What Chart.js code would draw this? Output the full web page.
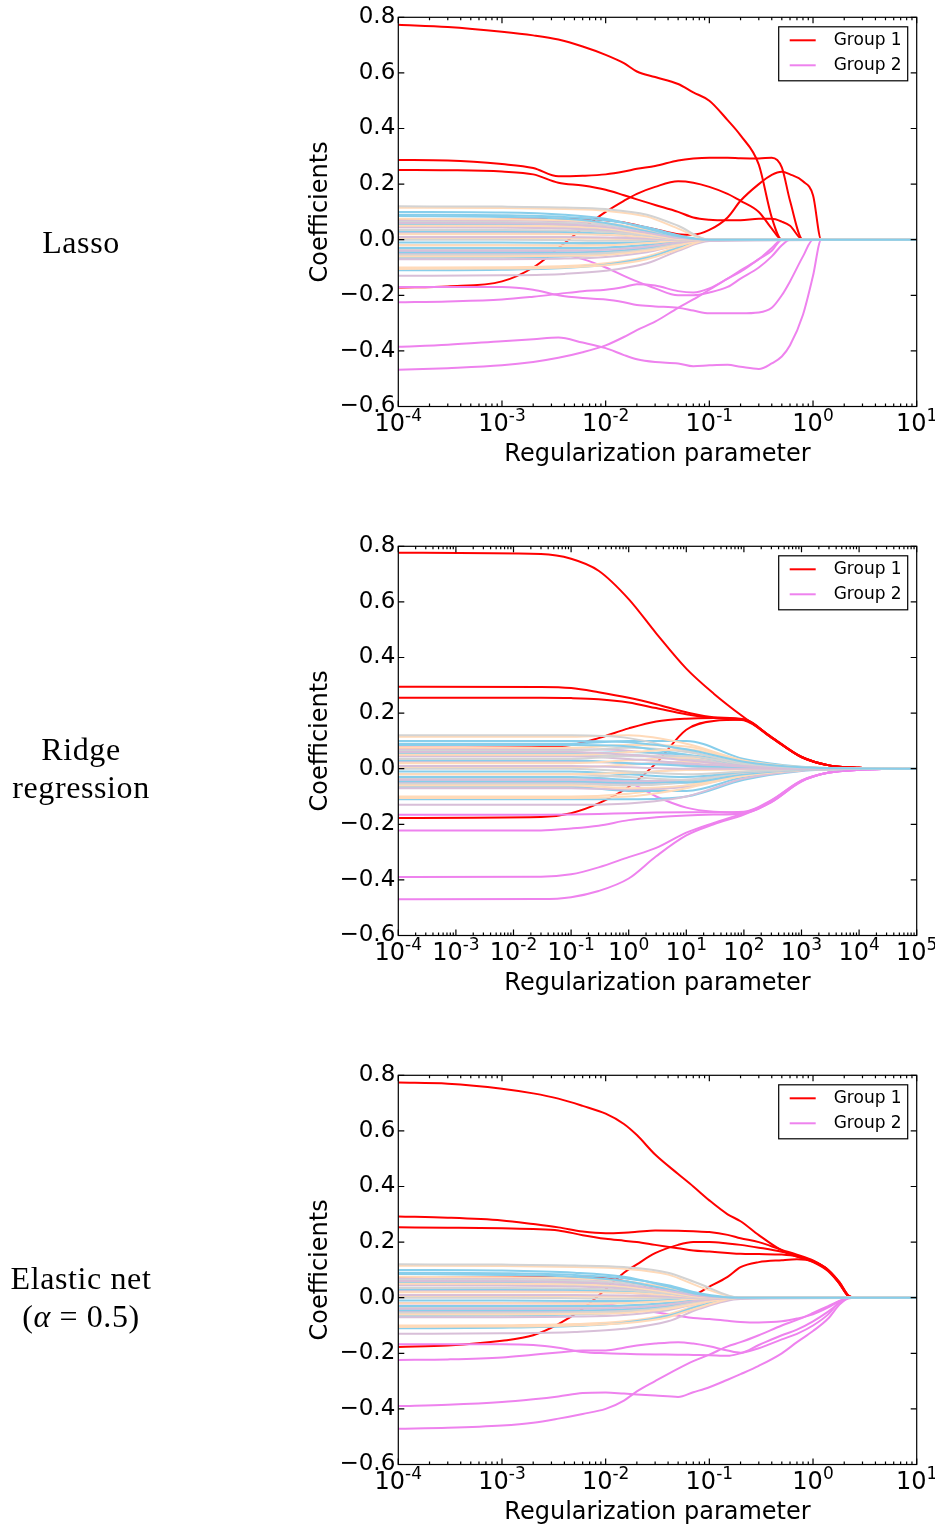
<!DOCTYPE html>
<html>
<head>
<meta charset="utf-8">
<script src="https://cdn.jsdelivr.net/npm/chart.js@4.4.1/dist/chart.umd.min.js"></script>
<style>
	html, body { margin: 0; padding: 0; background: #fff; }
	body { width: 935px; height: 1527px; position: relative; overflow: hidden; }
	.panel { position: absolute; left: 0; width: 935px; height: 469px; }
	.panel canvas { position: absolute; left: 0; top: 0; }
	.rowlabel { position: absolute; left: 0; width: 162px; text-align: center; color: #000;
		font-family: "Liberation Serif", "DejaVu Serif", serif; font-size: 32px; line-height: 38px;
		letter-spacing: 0.6px; }
</style>
</head>
<body>
<div class="panel" style="top:0px"><canvas id="lasso" width="935" height="469"></canvas></div>
<div class="panel" style="top:529px"><canvas id="ridge" width="935" height="469"></canvas></div>
<div class="panel" style="top:1058px"><canvas id="elastic" width="935" height="469"></canvas></div>
<div class="rowlabel" style="top:223px">Lasso</div>
<div class="rowlabel" style="top:730px">Ridge<br>regression</div>
<div class="rowlabel" style="top:1259px">Elastic net<br>(<i>α</i> = 0.5)</div>

<script>
// ---- shared labels / ticks ----
const groupLabels = ['Group 1', 'Group 2'];
const groupColors = ['red', 'violet'];
const yTickValues = [-0.6, -0.4, -0.2, 0, 0.2, 0.4, 0.6, 0.8];
const yTickLabels = ['\u22120.6', '\u22120.4', '\u22120.2', '0.0', '0.2', '0.4', '0.6', '0.8'];
// x tick labels are 10 with a raised exponent
const sparseTickValues = [1e-4, 1e-3, 1e-2, 1e-1, 1e0, 1e1];
const sparseTickExps = ['-4', '-3', '-2', '-1', '0', '1'];
const ridgeTickValues = [1e-4, 1e-3, 1e-2, 1e-1, 1e0, 1e1, 1e2, 1e3, 1e4, 1e5];
const ridgeTickExps = ['-4', '-3', '-2', '-1', '0', '1', '2', '3', '4', '5'];

// ---- noise features (faded lines), same order for every panel ----
const noiseColors = [
	'skyblue', 'lightgray', 'peachpuff', 'thistle', 'skyblue', 'peachpuff', 'lightgray',
	'skyblue', 'thistle', 'peachpuff', 'skyblue', 'lightgray', 'thistle', 'skyblue',
	'lightgray', 'peachpuff', 'thistle', 'skyblue', 'lightgray', 'thistle', 'skyblue',
	'peachpuff', 'lightgray', 'skyblue', 'thistle', 'peachpuff', 'thistle', 'skyblue',
	'peachpuff', 'thistle', 'lightgray', 'skyblue', 'peachpuff', 'lightgray', 'thistle', 'peachpuff'
];
// lasso / elastic net noise paths (sparse methods)
const lassoNoiseLambda = [1e-4, 1e-3, 4e-3, 1e-2, 2.5e-2, 5e-2, 0.1, 10];
const elasticNoiseLambda = [1e-4, 1e-3, 5e-3, 1.5e-2, 4e-2, 0.08, 0.2, 10];
const sparseNoise = [
	[0.10, 0.098, 0.09, 0.075, 0.04, 0.012, 0, 0],
	[0.12, 0.119, 0.116, 0.11, 0.09, 0.05, 0, 0],
	[0.115, 0.114, 0.11, 0.104, 0.083, 0.04, 0, 0],
	[0.06, 0.059, 0.055, 0.046, 0.025, 0.006, 0, 0],
	[0.09, 0.088, 0.082, 0.07, 0.045, 0.016, 0, 0],
	[0.05, 0.05, 0.048, 0.04, 0.02, 0.003, 0, 0],
	[0.035, 0.035, 0.033, 0.028, 0.015, 0.002, 0, 0],
	[0.085, 0.082, 0.075, 0.06, 0.03, 0.005, 0, 0],
	[0.045, 0.044, 0.04, 0.032, 0.015, 0.002, 0, 0],
	[0.02, 0.02, 0.02, 0.018, 0.01, 0.001, 0, 0],
	[0.055, 0.053, 0.05, 0.04, 0.02, 0.004, 0, 0],
	[0.065, 0.064, 0.06, 0.052, 0.03, 0.008, 0, 0],
	[0.01, 0.01, 0.01, 0.008, 0.004, 0, 0, 0],
	[0.03, 0.03, 0.028, 0.022, 0.01, 0.001, 0, 0],
	[0.0, 0.0, -0.002, -0.004, -0.002, 0, 0, 0],
	[-0.02, -0.02, -0.022, -0.02, -0.012, -0.003, 0, 0],
	[0.025, 0.025, 0.023, 0.018, 0.008, 0.001, 0, 0],
	[-0.01, -0.01, -0.012, -0.012, -0.008, -0.001, 0, 0],
	[-0.02, -0.02, -0.02, -0.017, -0.01, -0.002, 0, 0],
	[-0.04, -0.04, -0.04, -0.036, -0.025, -0.01, 0, 0],
	[-0.03, -0.03, -0.03, -0.028, -0.018, -0.005, 0, 0],
	[-0.06, -0.06, -0.058, -0.055, -0.04, -0.02, 0, 0],
	[-0.055, -0.055, -0.053, -0.048, -0.035, -0.015, 0, 0],
	[-0.045, -0.045, -0.045, -0.042, -0.03, -0.012, 0, 0],
	[-0.05, -0.05, -0.05, -0.046, -0.032, -0.013, 0, 0],
	[-0.105, -0.104, -0.1, -0.092, -0.07, -0.035, 0, 0],
	[-0.13, -0.128, -0.123, -0.112, -0.085, -0.04, -0.005, 0],
	[-0.11, -0.108, -0.102, -0.09, -0.065, -0.03, 0, 0],
	[0.075, 0.074, 0.07, 0.06, 0.035, 0.01, 0, 0],
	[-0.07, -0.07, -0.068, -0.062, -0.045, -0.02, 0, 0],
	[0.045, 0.045, 0.043, 0.036, 0.02, 0.004, 0, 0],
	[-0.065, -0.064, -0.06, -0.052, -0.035, -0.012, 0, 0],
	[0.005, 0.005, 0.004, 0.003, 0.001, 0, 0, 0],
	[-0.035, -0.035, -0.034, -0.03, -0.02, -0.006, 0, 0],
	[0.07, 0.069, 0.066, 0.058, 0.035, 0.01, 0, 0],
	[-0.1, -0.099, -0.095, -0.085, -0.06, -0.025, 0, 0]
];
// ridge noise paths
const ridgeNoiseLambda = [1e-4, 0.1, 1, 10, 100, 1e3, 1e4, 1e5];
const ridgeNoise = [
	[0.10, 0.1, 0.095, 0.07, 0.025, 0.005, 0.001, 0],
	[0.12, 0.12, 0.11, 0.065, 0.02, 0.004, 0.001, 0],
	[0.115, 0.115, 0.12, 0.09, 0.03, 0.006, 0.001, 0],
	[0.06, 0.06, 0.05, 0.03, 0.01, 0.002, 0, 0],
	[0.09, 0.09, 0.1, 0.1, 0.035, 0.007, 0.001, 0],
	[0.05, 0.05, 0.06, 0.07, 0.025, 0.005, 0.001, 0],
	[0.035, 0.035, 0.045, 0.045, 0.015, 0.003, 0, 0],
	[0.085, 0.085, 0.08, 0.05, 0.015, 0.003, 0, 0],
	[0.045, 0.045, 0.035, 0.02, 0.008, 0.002, 0, 0],
	[0.02, 0.02, 0.03, 0.04, 0.02, 0.004, 0.001, 0],
	[0.055, 0.055, 0.06, 0.05, 0.02, 0.004, 0.001, 0],
	[0.065, 0.065, 0.075, 0.06, 0.02, 0.004, 0.001, 0],
	[0.01, 0.01, 0.005, 0, 0, 0, 0, 0],
	[0.03, 0.03, 0.02, 0.01, 0.005, 0.001, 0, 0],
	[0, 0, -0.01, -0.02, -0.01, -0.002, 0, 0],
	[-0.02, -0.02, -0.015, -0.005, -0.003, -0.001, 0, 0],
	[0.025, 0.025, 0.02, 0.015, 0.006, 0.001, 0, 0],
	[-0.01, -0.01, -0.02, -0.03, -0.012, -0.002, 0, 0],
	[-0.02, -0.02, -0.03, -0.04, -0.015, -0.003, 0, 0],
	[-0.04, -0.04, -0.045, -0.04, -0.015, -0.003, 0, 0],
	[-0.03, -0.03, -0.04, -0.05, -0.02, -0.004, -0.001, 0],
	[-0.06, -0.06, -0.07, -0.06, -0.025, -0.005, -0.001, 0],
	[-0.055, -0.055, -0.06, -0.05, -0.02, -0.004, -0.001, 0],
	[-0.045, -0.045, -0.05, -0.045, -0.02, -0.004, -0.001, 0],
	[-0.05, -0.05, -0.055, -0.05, -0.02, -0.004, -0.001, 0],
	[-0.105, -0.105, -0.1, -0.07, -0.025, -0.005, -0.001, 0],
	[-0.13, -0.13, -0.125, -0.1, -0.035, -0.007, -0.001, 0],
	[-0.11, -0.11, -0.11, -0.1, -0.04, -0.008, -0.001, 0],
	[0.075, 0.075, 0.085, 0.08, 0.028, 0.005, 0.001, 0],
	[-0.07, -0.07, -0.075, -0.065, -0.025, -0.005, -0.001, 0],
	[0.045, 0.045, 0.05, 0.035, 0.012, 0.002, 0, 0],
	[-0.065, -0.065, -0.08, -0.08, -0.03, -0.006, -0.001, 0],
	[0.005, 0.005, 0.015, 0.025, 0.012, 0.002, 0, 0],
	[-0.035, -0.035, -0.02, 0, 0.005, 0.001, 0, 0],
	[0.07, 0.07, 0.065, 0.04, 0.012, 0.002, 0, 0],
	[-0.1, -0.1, -0.09, -0.06, -0.02, -0.004, -0.001, 0]
];

// ---- Lasso ----
const lassoLambda = [1e-4, 3e-4, 1e-3, 2e-3, 3.5e-3, 6e-3, 1e-2, 1.5e-2, 2e-2, 3e-2, 5e-2, 7e-2, 0.1, 0.15, 0.2, 0.3, 0.4, 0.5, 0.6, 0.8, 1.0, 1.2, 10];
const lassoGroup1 = [
	[0.773, 0.765, 0.748, 0.735, 0.72, 0.695, 0.665, 0.635, 0.605, 0.585, 0.56, 0.53, 0.5, 0.43, 0.375, 0.27, 0.08, 0, 0, 0, 0, 0, 0],
	[0.287, 0.285, 0.272, 0.258, 0.228, 0.23, 0.235, 0.245, 0.255, 0.265, 0.285, 0.292, 0.295, 0.295, 0.293, 0.292, 0.295, 0.26, 0.14, 0, 0, 0, 0],
	[0.251, 0.25, 0.245, 0.235, 0.205, 0.195, 0.18, 0.16, 0.145, 0.125, 0.1, 0.08, 0.072, 0.07, 0.07, 0.075, 0.075, 0.065, 0.05, 0, 0, 0, 0],
	[0.07, 0.07, 0.072, 0.073, 0.075, 0.075, 0.07, 0.062, 0.052, 0.038, 0.02, 0.018, 0.035, 0.08, 0.14, 0.2, 0.233, 0.244, 0.235, 0.21, 0.16, 0, 0],
	[-0.172, -0.168, -0.15, -0.1, -0.03, 0.04, 0.1, 0.14, 0.165, 0.19, 0.21, 0.205, 0.19, 0.165, 0.14, 0.1, 0.04, 0, 0, 0, 0, 0, 0]
];
const lassoGroup2 = [
	[-0.17, -0.17, -0.17, -0.18, -0.2, -0.21, -0.215, -0.225, -0.235, -0.24, -0.245, -0.255, -0.265, -0.265, -0.265, -0.262, -0.245, -0.2, -0.15, -0.06, 0, 0, 0],
	[-0.225, -0.222, -0.215, -0.205, -0.195, -0.185, -0.18, -0.17, -0.16, -0.165, -0.185, -0.19, -0.175, -0.14, -0.11, -0.07, -0.03, 0, 0, 0, 0, 0, 0],
	[-0.385, -0.378, -0.365, -0.358, -0.352, -0.37, -0.39, -0.415, -0.43, -0.44, -0.445, -0.455, -0.452, -0.45, -0.457, -0.465, -0.445, -0.42, -0.38, -0.27, -0.13, 0, 0],
	[-0.468, -0.462, -0.452, -0.44, -0.425, -0.405, -0.38, -0.35, -0.325, -0.295, -0.245, -0.215, -0.18, -0.14, -0.115, -0.07, -0.04, 0, 0, 0, 0, 0, 0],
	[-0.03, -0.03, -0.035, -0.04, -0.05, -0.07, -0.1, -0.13, -0.15, -0.175, -0.2, -0.2, -0.19, -0.17, -0.14, -0.1, -0.06, -0.02, 0, 0, 0, 0, 0]
];

// ---- Ridge ----
const ridgeLambda = [1e-4, 3e-2, 0.1, 0.3, 1, 3, 10, 30, 100, 300, 1e3, 3e3, 1e4, 3e4, 1e5];
const ridgeGroup1 = [
	[0.777, 0.772, 0.755, 0.712, 0.61, 0.487, 0.36, 0.27, 0.185, 0.115, 0.043, 0.012, 0.003, 0.001, 0],
	[0.295, 0.294, 0.29, 0.275, 0.255, 0.232, 0.203, 0.185, 0.178, 0.113, 0.042, 0.012, 0.003, 0.001, 0],
	[0.255, 0.255, 0.254, 0.25, 0.238, 0.218, 0.196, 0.182, 0.174, 0.112, 0.041, 0.012, 0.003, 0.001, 0],
	[0.075, 0.078, 0.085, 0.11, 0.145, 0.17, 0.18, 0.182, 0.176, 0.113, 0.042, 0.012, 0.003, 0.001, 0],
	[-0.177, -0.174, -0.16, -0.125, -0.065, 0.02, 0.14, 0.172, 0.176, 0.112, 0.042, 0.012, 0.003, 0.001, 0]
];
const ridgeGroup2 = [
	[-0.166, -0.166, -0.165, -0.163, -0.16, -0.158, -0.157, -0.157, -0.155, -0.113, -0.042, -0.014, -0.004, -0.001, 0],
	[-0.222, -0.222, -0.215, -0.205, -0.185, -0.175, -0.168, -0.165, -0.16, -0.115, -0.043, -0.014, -0.004, -0.001, 0],
	[-0.39, -0.389, -0.38, -0.355, -0.318, -0.285, -0.23, -0.195, -0.16, -0.118, -0.045, -0.014, -0.004, -0.001, 0],
	[-0.47, -0.469, -0.462, -0.44, -0.395, -0.315, -0.24, -0.2, -0.165, -0.12, -0.046, -0.014, -0.004, -0.001, 0],
	[-0.03, -0.03, -0.032, -0.04, -0.05, -0.1, -0.14, -0.155, -0.158, -0.12, -0.045, -0.014, -0.004, -0.001, 0]
];

// ---- Elastic net ----
const elasticLambda = [1e-4, 3e-4, 1e-3, 2e-3, 3.5e-3, 6e-3, 1e-2, 1.5e-2, 2e-2, 3e-2, 5e-2, 7e-2, 0.1, 0.15, 0.2, 0.3, 0.5, 0.7, 1.0, 1.4, 1.8, 2.2, 2.6, 10];
const elasticGroup1 = [
	[0.774, 0.77, 0.752, 0.735, 0.716, 0.69, 0.662, 0.625, 0.585, 0.515, 0.445, 0.4, 0.35, 0.3, 0.275, 0.225, 0.17, 0.148, 0.13, 0.1, 0.05, 0.005, 0, 0],
	[0.292, 0.288, 0.278, 0.265, 0.253, 0.238, 0.232, 0.234, 0.237, 0.242, 0.241, 0.239, 0.236, 0.226, 0.214, 0.2, 0.172, 0.155, 0.134, 0.1, 0.055, 0.008, 0, 0],
	[0.253, 0.252, 0.25, 0.247, 0.242, 0.225, 0.212, 0.205, 0.2, 0.19, 0.178, 0.17, 0.166, 0.161, 0.158, 0.157, 0.155, 0.148, 0.128, 0.095, 0.05, 0.006, 0, 0],
	[0.073, 0.073, 0.074, 0.075, 0.075, 0.073, 0.07, 0.06, 0.05, 0.035, 0.018, 0.012, 0.04, 0.075, 0.11, 0.128, 0.135, 0.138, 0.13, 0.098, 0.052, 0.006, 0, 0],
	[-0.177, -0.172, -0.155, -0.135, -0.095, -0.04, 0.03, 0.09, 0.12, 0.16, 0.19, 0.2, 0.2, 0.195, 0.19, 0.18, 0.165, 0.15, 0.132, 0.1, 0.056, 0.007, 0, 0]
];
const elasticGroup2 = [
	[-0.167, -0.167, -0.167, -0.17, -0.18, -0.195, -0.2, -0.202, -0.203, -0.204, -0.205, -0.206, -0.207, -0.209, -0.2, -0.182, -0.15, -0.13, -0.1, -0.06, -0.015, 0, 0, 0],
	[-0.224, -0.222, -0.215, -0.205, -0.197, -0.19, -0.19, -0.18, -0.172, -0.165, -0.16, -0.165, -0.175, -0.19, -0.198, -0.17, -0.135, -0.115, -0.085, -0.05, -0.02, -0.002, 0, 0],
	[-0.39, -0.385, -0.375, -0.365, -0.355, -0.343, -0.341, -0.345, -0.348, -0.352, -0.357, -0.34, -0.322, -0.295, -0.275, -0.245, -0.2, -0.16, -0.12, -0.075, -0.025, -0.002, 0, 0],
	[-0.471, -0.468, -0.46, -0.45, -0.435, -0.418, -0.4, -0.37, -0.337, -0.3, -0.255, -0.228, -0.205, -0.175, -0.16, -0.135, -0.1, -0.08, -0.055, -0.03, -0.012, -0.001, 0, 0],
	[-0.02, -0.02, -0.02, -0.02, -0.02, -0.021, -0.023, -0.035, -0.042, -0.052, -0.065, -0.073, -0.077, -0.083, -0.087, -0.089, -0.085, -0.075, -0.06, -0.035, -0.012, -0.001, 0, 0]
];

const sansFont = '"DejaVu Sans", sans-serif';

function series(xs, ys) {
	return xs.map((x, i) => ({ x: x, y: ys[i] }));
}

function buildDatasets(groupX, group1, group2, noiseX, noise) {
	const ds = [];
	// first dataset is painted last, so noise goes first (drawn over the groups)
	noise.forEach((row, i) => ds.push({ data: series(noiseX, row), borderColor: noiseColors[i] }));
	group2.forEach(row => ds.push({ data: series(groupX, row), borderColor: groupColors[1] }));
	group1.forEach(row => ds.push({ data: series(groupX, row), borderColor: groupColors[0] }));
	return ds;
}

// box, inside ticks (major + log minor) on all four sides, and 10^n tick labels
const framePlugin = {
	id: 'frame',
	afterDraw(chart, args, opts) {
		const { ctx, chartArea: a } = chart;
		const x = chart.scales.x, y = chart.scales.y;
		ctx.save();
		ctx.strokeStyle = '#000';
		ctx.lineWidth = 1.2;
		ctx.strokeRect(a.left, a.top, a.right - a.left, a.bottom - a.top);
		ctx.beginPath();
		const e0 = Math.round(Math.log10(x.min)), e1 = Math.round(Math.log10(x.max));
		for (let e = e0; e <= e1; e++) {
			for (let k = 1; k <= 9; k++) {
				const v = k * Math.pow(10, e);
				if (v > x.max * 1.0001) continue;
				const px = x.getPixelForValue(v);
				const len = k === 1 ? 6 : 3;
				ctx.moveTo(px, a.bottom); ctx.lineTo(px, a.bottom - len);
				ctx.moveTo(px, a.top); ctx.lineTo(px, a.top + len);
			}
		}
		y.ticks.forEach(t => {
			const py = y.getPixelForValue(t.value);
			ctx.moveTo(a.left, py); ctx.lineTo(a.left + 6, py);
			ctx.moveTo(a.right, py); ctx.lineTo(a.right - 6, py);
		});
		ctx.stroke();

		// x tick labels: "10" plus a smaller raised exponent, centred on the tick
		ctx.fillStyle = '#000';
		ctx.textBaseline = 'alphabetic';
		ctx.textAlign = 'left';
		const base = a.bottom + 24.5;
		x.ticks.forEach((t, i) => {
			const px = x.getPixelForValue(t.value);
			ctx.font = '24px ' + sansFont;
			const w1 = ctx.measureText('10').width;
			ctx.font = '17px ' + sansFont;
			const w2 = ctx.measureText(opts.exps[i]).width;
			const start = px - (w1 + w2) / 2;
			ctx.font = '24px ' + sansFont;
			ctx.fillText('10', start, base);
			ctx.font = '17px ' + sansFont;
			ctx.fillText(opts.exps[i], start + w1, base - 10);
		});
		ctx.restore();
	}
};

// boxed legend in the upper right corner of the axes
const legendPlugin = {
	id: 'groupLegend',
	afterDraw(chart) {
		const { ctx, chartArea: a } = chart;
		const w = 129, h = 54;
		const left = a.right - 9 - w, top = a.top + 9.5;
		ctx.save();
		ctx.fillStyle = '#fff';
		ctx.fillRect(left, top, w, h);
		ctx.strokeStyle = '#000';
		ctx.lineWidth = 1.2;
		ctx.strokeRect(left, top, w, h);
		ctx.font = '17px ' + sansFont;
		ctx.textBaseline = 'middle';
		groupLabels.forEach((label, i) => {
			const yy = top + 13.5 + i * 25;
			ctx.strokeStyle = groupColors[i];
			ctx.lineWidth = 2;
			ctx.beginPath();
			ctx.moveTo(left + 11, yy);
			ctx.lineTo(left + 37, yy);
			ctx.stroke();
			ctx.fillStyle = '#000';
			ctx.fillText(label, left + 55, yy);
		});
		ctx.restore();
	}
};

function makeChart(id, datasets, xMax, tickValues, tickExps) {
	return new Chart(document.getElementById(id), {
		type: 'line',
		data: { datasets: datasets },
		options: {
			responsive: false,
			animation: false,
			devicePixelRatio: 1,
			layout: { padding: { left: 303, top: 17.3, right: 18.3, bottom: 0 } },
			elements: {
				point: { radius: 0 },
				line: { borderWidth: 2, cubicInterpolationMode: 'monotone' }
			},
			plugins: {
				legend: { display: false },
				tooltip: { enabled: false },
				frame: { exps: tickExps }
			},
			scales: {
				x: {
					type: 'logarithmic',
					min: 1e-4,
					max: xMax,
					grid: { display: false, drawTicks: false },
					border: { display: false },
					afterBuildTicks: s => { s.ticks = tickValues.map(v => ({ value: v })); },
					afterFit: s => { s.height = 62.5; s.paddingLeft = 0; s.paddingRight = 0; },
					ticks: { display: false },
					title: {
						display: true, text: 'Regularization parameter', color: '#000',
						font: { family: sansFont, size: 24 }, padding: { top: 0, bottom: 0 }
					}
				},
				y: {
					min: -0.6,
					max: 0.8,
					grid: { display: false, drawTicks: false },
					border: { display: false },
					afterBuildTicks: s => { s.ticks = yTickValues.map(v => ({ value: v })); },
					afterFit: s => { s.width = 95.3; },
					ticks: {
						padding: 3, color: '#000',
						font: { family: sansFont, size: 23 },
						callback: (v, i) => yTickLabels[i]
					},
					title: {
						display: true, text: 'Coefficients', color: '#000',
						font: { family: sansFont, size: 24 }, padding: { top: 3, bottom: 3 }
					}
				}
			}
		},
		plugins: [framePlugin, legendPlugin]
	});
}

makeChart('lasso', buildDatasets(lassoLambda, lassoGroup1, lassoGroup2, lassoNoiseLambda, sparseNoise), 10, sparseTickValues, sparseTickExps);
makeChart('ridge', buildDatasets(ridgeLambda, ridgeGroup1, ridgeGroup2, ridgeNoiseLambda, ridgeNoise), 1e5, ridgeTickValues, ridgeTickExps);
makeChart('elastic', buildDatasets(elasticLambda, elasticGroup1, elasticGroup2, elasticNoiseLambda, sparseNoise), 10, sparseTickValues, sparseTickExps);
</script>
</body>
</html>
